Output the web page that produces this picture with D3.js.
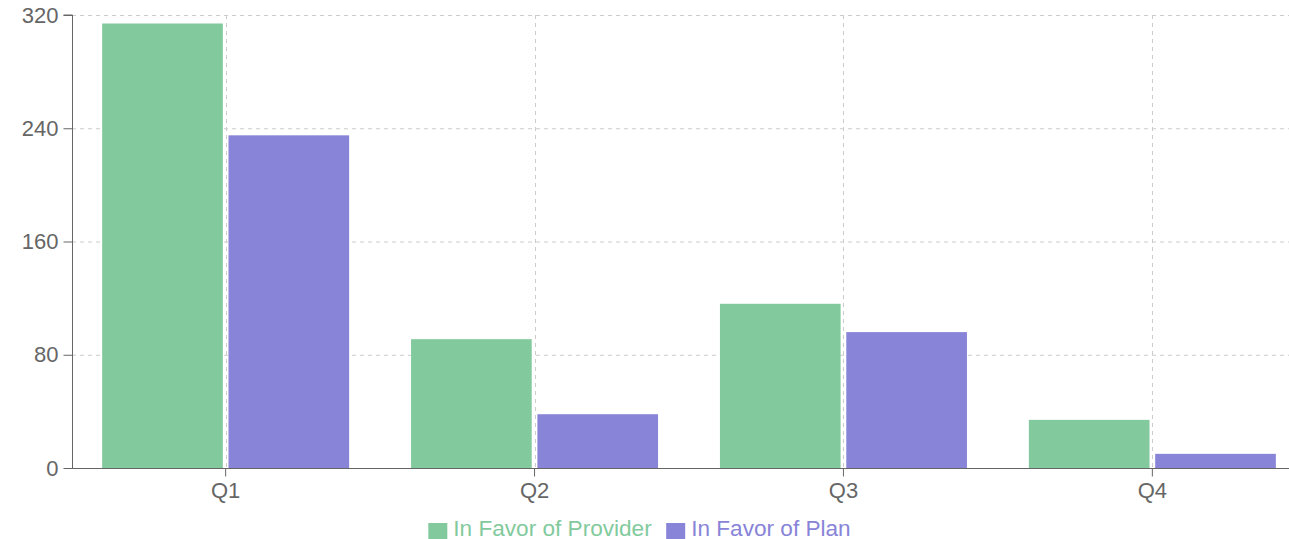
<!DOCTYPE html>
<html>
<head>
<meta charset="utf-8">
<script src="https://cdn.jsdelivr.net/npm/d3@7"></script>
<style>
  html, body { margin:0; padding:0; background:#fff; overflow:hidden; }
  svg { display:block; font-family: "Liberation Sans", Arial, Helvetica, sans-serif; }
</style>
</head>
<body>
<div id="chart"></div>
<script>
// data
var quarters = ["Q1", "Q2", "Q3", "Q4"];
var providerVals = [314, 91, 116, 34];
var planVals = [235, 38, 96, 10];
var seriesNames = ["In Favor of Provider", "In Favor of Plan"];
var seriesColors = ["#82ca9d", "#8884d8"];
var yTicks = [0, 80, 160, 240, 320];

var W = 1289, H = 539;
var plotL = 72, plotR = 1308, plotT = 15, plotB = 468;

var rows = quarters.map(function(q, i){
  return {q: q, vals: [providerVals[i], planVals[i]]};
});

var svg = d3.select("#chart").append("svg")
  .attr("width", W)
  .attr("height", H);

// the band range starts half a pixel before the axis line, as in the picture
var x = d3.scaleBand()
  .domain(quarters)
  .range([plotL - 0.8, plotR - 1.2])
  .padding(0);

var xSub = d3.scaleBand()
  .domain([0, 1])
  .range([0, x.bandwidth()])
  .paddingInner(0.045)
  .paddingOuter(0.245);

var y = d3.scaleLinear()
  .domain([0, 320])
  .range([plotB, plotT]);

// grid
var grid = svg.append("g").attr("stroke", "#ccc").attr("stroke-dasharray", "4 4").attr("fill", "none");
grid.selectAll(".h")
  .data(yTicks)
  .enter().append("line")
  .attr("x1", plotL).attr("x2", plotR)
  .attr("y1", function(d){ return y(d) + 0.5; })
  .attr("y2", function(d){ return y(d) + 0.5; });
grid.selectAll(".v")
  .data(quarters)
  .enter().append("line")
  .attr("y1", plotT).attr("y2", plotB)
  .attr("x1", function(d){ return Math.round(x(d) + x.bandwidth()/2) + 0.5; })
  .attr("x2", function(d){ return Math.round(x(d) + x.bandwidth()/2) + 0.5; });

// bars
var groups = svg.selectAll(".grp")
  .data(rows)
  .enter().append("g")
  .attr("transform", function(d){ return "translate(" + x(d.q) + ",0)"; });

groups.selectAll("rect")
  .data(function(d){ return d.vals; })
  .enter().append("rect")
  .attr("x", function(d, i){ return xSub(i); })
  .attr("width", xSub.bandwidth())
  .attr("y", function(d){ return y(d); })
  .attr("height", function(d){ return y(0) - y(d); })
  .attr("fill", function(d, i){ return seriesColors[i]; });

// axes
var yAxis = svg.append("g")
  .attr("transform", "translate(" + (plotL + 0.5) + ",0)")
  .call(d3.axisLeft(y).tickValues(yTicks).tickSize(9).tickPadding(5));
var xAxis = svg.append("g")
  .attr("transform", "translate(0," + (plotB + 0.5) + ")")
  .call(d3.axisBottom(x).tickSize(8).tickPadding(6).tickSizeOuter(0));

[yAxis, xAxis].forEach(function(a){
  a.selectAll("path, line").attr("stroke", "#666");
  a.selectAll("text")
    .attr("fill", "#666")
    .style("font-size", "22px")
    .style("font-family", "\"Liberation Sans\", Arial, sans-serif");
});
yAxis.select(".domain").attr("d", "M-9," + plotT + "H0V" + plotB);
xAxis.select(".domain").attr("d", "M" + plotL + ",0H" + plotR);

// legend
var legend = svg.append("g");
var items = legend.selectAll(".item")
  .data(seriesNames)
  .enter().append("g");
items.append("rect")
  .attr("width", 19).attr("height", 19)
  .attr("y", 523)
  .attr("fill", function(d, i){ return seriesColors[i]; });
items.append("text")
  .attr("x", 25)
  .attr("y", 536)
  .attr("fill", function(d, i){ return seriesColors[i]; })
  .style("font-size", "22.6px")
  .text(function(d){ return d; });

var widths = [];
items.each(function(){ widths.push(this.getBBox().width); });
var gap = 14;
var total = d3.sum(widths) + gap * (widths.length - 1);
var cx = 639.5 - total/2;
items.attr("transform", function(d, i){
  var off = cx + d3.sum(widths.slice(0, i)) + gap * i;
  return "translate(" + off + ",0)";
});
</script>
</body>
</html>
